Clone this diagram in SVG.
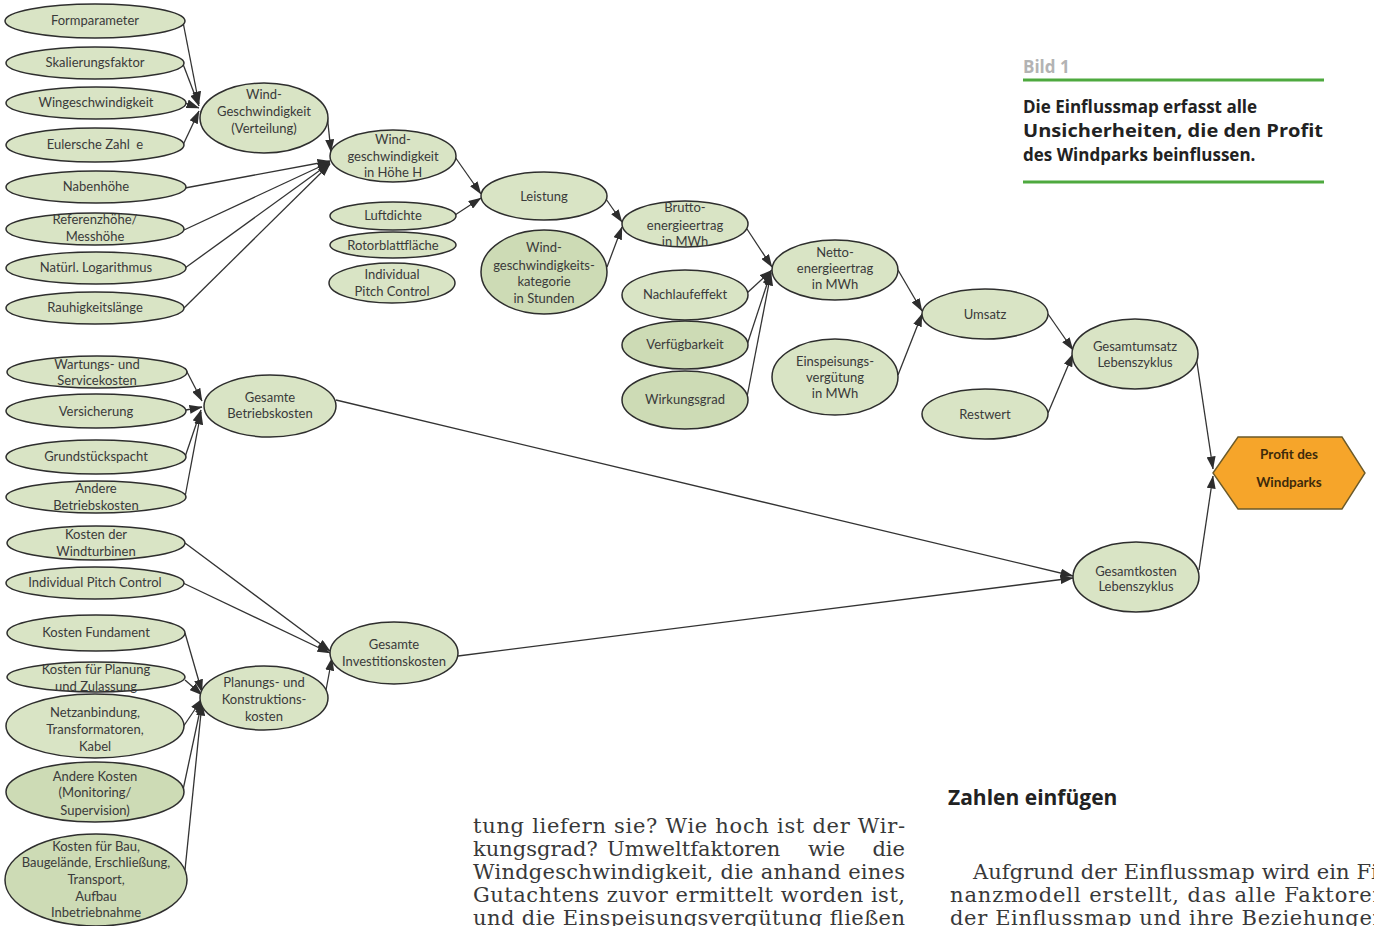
<svg xmlns="http://www.w3.org/2000/svg" width="1374" height="926" viewBox="0 0 1374 926">
<style>
.n ellipse{fill:#d9e4c5;stroke:#2e2e2e;stroke-width:1.5}
.n.dk ellipse{fill:#cddbb5}
.n text{font-family:Lato,"Liberation Sans",sans-serif;font-size:13px;fill:#3a3a3a;text-anchor:middle}
.c line{stroke:#333;stroke-width:1.3;marker-end:url(#ah)}
.cap{font-family:"Open Sans","Liberation Sans",sans-serif;font-weight:bold}
.body{font-family:"DejaVu Serif","Liberation Serif",serif;font-size:21px;fill:#383838}
</style>
<defs>
<marker id="ah" viewBox="0 0 13 9" refX="12.5" refY="4.5" markerWidth="13" markerHeight="9" markerUnits="userSpaceOnUse" orient="auto">
<path d="M0,0 L13,4.5 L0,9 z" fill="#2d2d2d"/>
</marker>
</defs>
<rect width="1374" height="926" fill="#fff"/>

<g id="connectors" class="c">
<line x1="183" y1="22" x2="199" y2="104"/>
<line x1="183" y1="64" x2="199" y2="106"/>
<line x1="185" y1="103" x2="199" y2="108"/>
<line x1="183" y1="145" x2="199" y2="111"/>
<line x1="327" y1="114" x2="331" y2="152"/>
<line x1="185" y1="188" x2="330" y2="161"/>
<line x1="184" y1="230" x2="330" y2="162"/>
<line x1="185" y1="268" x2="330" y2="163"/>
<line x1="184" y1="308" x2="330" y2="164"/>
<line x1="455" y1="157" x2="481" y2="194"/>
<line x1="455" y1="215" x2="481" y2="198"/>
<line x1="606" y1="199" x2="622" y2="222"/>
<line x1="607" y1="267" x2="622" y2="227"/>
<line x1="747" y1="229" x2="772" y2="267"/>
<line x1="747" y1="293" x2="772" y2="270"/>
<line x1="747" y1="345" x2="771" y2="272"/>
<line x1="747" y1="397" x2="771" y2="273"/>
<line x1="898" y1="270" x2="922" y2="311"/>
<line x1="898" y1="375" x2="922" y2="314"/>
<line x1="1048" y1="314" x2="1073" y2="350"/>
<line x1="1048" y1="413" x2="1073" y2="354"/>
<line x1="1196" y1="356" x2="1213" y2="469"/>
<line x1="1199" y1="570" x2="1213" y2="476"/>
<line x1="185" y1="368" x2="202" y2="401"/>
<line x1="186" y1="410" x2="202" y2="407"/>
<line x1="185" y1="457" x2="201" y2="410"/>
<line x1="185" y1="497" x2="201" y2="412"/>
<line x1="336" y1="400" x2="1073" y2="576"/>
<line x1="458" y1="656" x2="1073" y2="578"/>
<line x1="185" y1="543" x2="330" y2="651"/>
<line x1="183" y1="583" x2="330" y2="653"/>
<line x1="326" y1="690" x2="332" y2="658"/>
<line x1="185" y1="633" x2="202" y2="692"/>
<line x1="185" y1="680" x2="202" y2="695"/>
<line x1="183" y1="727" x2="202" y2="699"/>
<line x1="183" y1="790" x2="202" y2="701"/>
<line x1="185" y1="870" x2="202" y2="703"/>
</g>

<g id="formparameter" class="n"><ellipse cx="95" cy="21" rx="90" ry="17"/><text x="95" y="25">Formparameter</text></g>
<g id="skalierungsfaktor" class="n"><ellipse cx="95" cy="63" rx="89" ry="16"/><text x="95" y="67">Skalierungsfaktor</text></g>
<g id="wingeschwindigkeit" class="n"><ellipse cx="96" cy="103" rx="90" ry="16"/><text x="96" y="107">Wingeschwindigkeit</text></g>
<g id="eulersche" class="n"><ellipse cx="95" cy="145" rx="89" ry="17"/><text x="95" y="149" xml:space="preserve">Eulersche Zahl  e</text></g>
<g id="nabenhoehe" class="n"><ellipse cx="96" cy="187" rx="90" ry="16"/><text x="96" y="191">Nabenhöhe</text></g>
<g id="referenzhoehe" class="n"><ellipse cx="95" cy="229" rx="89" ry="16"/><text x="95" y="224">Referenzhöhe/</text><text x="95" y="241">Messhöhe</text></g>
<g id="logarithmus" class="n"><ellipse cx="96" cy="268" rx="90" ry="16"/><text x="96" y="272">Natürl. Logarithmus</text></g>
<g id="rauhigkeit" class="n"><ellipse cx="95" cy="308" rx="89" ry="16"/><text x="95" y="312">Rauhigkeitslänge</text></g>

<g id="windverteilung" class="n"><ellipse cx="264" cy="118" rx="64" ry="35"/><text x="264" y="99">Wind-</text><text x="264" y="116">Geschwindigkeit</text><text x="264" y="133">(Verteilung)</text></g>
<g id="windhoehe" class="n"><ellipse cx="393" cy="156" rx="63" ry="26"/><text x="393" y="144">Wind-</text><text x="393" y="161">geschwindigkeit</text><text x="393" y="177">in Höhe H</text></g>
<g id="luftdichte" class="n"><ellipse cx="393" cy="216" rx="63" ry="14"/><text x="393" y="220">Luftdichte</text></g>
<g id="rotorblatt" class="n"><ellipse cx="393" cy="245" rx="63" ry="13"/><text x="393" y="250">Rotorblattfläche</text></g>
<g id="ipc1" class="n"><ellipse cx="392" cy="283" rx="63" ry="20"/><text x="392" y="279">Individual</text><text x="392" y="296">Pitch Control</text></g>
<g id="leistung" class="n"><ellipse cx="544" cy="196" rx="63" ry="24"/><text x="544" y="201">Leistung</text></g>
<g id="windkategorie" class="n dk"><ellipse cx="544" cy="272" rx="63" ry="42"/><text x="544" y="252">Wind-</text><text x="544" y="270">geschwindigkeits-</text><text x="544" y="286">kategorie</text><text x="544" y="303">in Stunden</text></g>
<g id="brutto" class="n"><ellipse cx="685" cy="224" rx="63" ry="23"/><text x="685" y="212">Brutto-</text><text x="685" y="230">energieertrag</text><text x="685" y="246">in MWh</text></g>
<g id="nachlauf" class="n"><ellipse cx="685" cy="295" rx="63" ry="25"/><text x="685" y="299">Nachlaufeffekt</text></g>
<g id="verfuegbarkeit" class="n dk"><ellipse cx="685" cy="345" rx="63" ry="24"/><text x="685" y="349">Verfügbarkeit</text></g>
<g id="wirkungsgrad" class="n dk"><ellipse cx="685" cy="400" rx="63" ry="29"/><text x="685" y="404">Wirkungsgrad</text></g>
<g id="netto" class="n"><ellipse cx="835" cy="270" rx="63" ry="30"/><text x="835" y="257">Netto-</text><text x="835" y="273">energieertrag</text><text x="835" y="289">in MWh</text></g>
<g id="einspeisung" class="n"><ellipse cx="835" cy="377" rx="63" ry="38"/><text x="835" y="366">Einspeisungs-</text><text x="835" y="382">vergütung</text><text x="835" y="398">in MWh</text></g>
<g id="umsatz" class="n"><ellipse cx="985" cy="314" rx="63" ry="25"/><text x="985" y="319">Umsatz</text></g>
<g id="restwert" class="n"><ellipse cx="985" cy="414" rx="63" ry="25"/><text x="985" y="419">Restwert</text></g>
<g id="gesamtumsatz" class="n"><ellipse cx="1135" cy="354" rx="63" ry="35"/><text x="1135" y="351">Gesamtumsatz</text><text x="1135" y="367">Lebenszyklus</text></g>
<g id="gesamtkosten" class="n"><ellipse cx="1136" cy="577" rx="63" ry="35"/><text x="1136" y="576">Gesamtkosten</text><text x="1136" y="591">Lebenszyklus</text></g>

<g id="profit"><polygon points="1213,473 1238,437 1342,437 1365,473 1342,509 1238,509" fill="#f6a52a" stroke="#6b5a2a" stroke-width="1.4"/><text x="1289" y="459" font-family="Lato,'Liberation Sans',sans-serif" font-weight="bold" font-size="13.5" fill="#3d2a0a" text-anchor="middle">Profit des</text><text x="1289" y="487" font-family="Lato,'Liberation Sans',sans-serif" font-weight="bold" font-size="13.5" fill="#3d2a0a" text-anchor="middle">Windparks</text></g>

<g id="wartung" class="n"><ellipse cx="97" cy="372" rx="90" ry="16"/><text x="97" y="369">Wartungs- und</text><text x="97" y="385">Servicekosten</text></g>
<g id="versicherung" class="n"><ellipse cx="96" cy="411" rx="90" ry="17"/><text x="96" y="416">Versicherung</text></g>
<g id="grundstueck" class="n"><ellipse cx="96" cy="457" rx="90" ry="17"/><text x="96" y="461">Grundstückspacht</text></g>
<g id="anderebetrieb" class="n"><ellipse cx="96" cy="497" rx="90" ry="16"/><text x="96" y="493">Andere</text><text x="96" y="510">Betriebskosten</text></g>
<g id="betriebskosten" class="n"><ellipse cx="270" cy="406" rx="66" ry="31"/><text x="270" y="402">Gesamte</text><text x="270" y="418">Betriebskosten</text></g>

<g id="windturbinen" class="n"><ellipse cx="96" cy="543" rx="89" ry="17"/><text x="96" y="539">Kosten der</text><text x="96" y="556">Windturbinen</text></g>
<g id="ipc2" class="n"><ellipse cx="95" cy="583" rx="89" ry="16"/><text x="95" y="587">Individual Pitch Control</text></g>
<g id="fundament" class="n"><ellipse cx="96" cy="633" rx="89" ry="18"/><text x="96" y="637">Kosten Fundament</text></g>
<g id="planung" class="n"><ellipse cx="96" cy="677" rx="89" ry="15"/><text x="96" y="674">Kosten für Planung</text><text x="96" y="691">und Zulassung</text></g>
<g id="netzanbindung" class="n"><ellipse cx="95" cy="726" rx="89" ry="32"/><text x="95" y="717">Netzanbindung,</text><text x="95" y="734">Transformatoren,</text><text x="95" y="751">Kabel</text></g>
<g id="anderekosten" class="n dk"><ellipse cx="95" cy="792" rx="89" ry="30"/><text x="95" y="781">Andere Kosten</text><text x="95" y="797">(Monitoring/</text><text x="95" y="815">Supervision)</text></g>
<g id="bau" class="n dk"><ellipse cx="96" cy="880" rx="91" ry="46"/><text x="96" y="851">Kosten für Bau,</text><text x="96" y="867">Baugelände, Erschließung,</text><text x="96" y="884">Transport,</text><text x="96" y="901">Aufbau</text><text x="96" y="917">Inbetriebnahme</text></g>
<g id="planungskonstruktion" class="n"><ellipse cx="264" cy="698" rx="64" ry="32"/><text x="264" y="687">Planungs- und</text><text x="264" y="704">Konstruktions-</text><text x="264" y="721">kosten</text></g>
<g id="investition" class="n"><ellipse cx="394" cy="653" rx="64" ry="31"/><text x="394" y="649">Gesamte</text><text x="394" y="666">Investitionskosten</text></g>

<g id="caption">
<text x="1023" y="73" class="cap" font-size="17" fill="#b3b3b3">Bild 1</text>
<line x1="1023" y1="80" x2="1324" y2="80" stroke="#4ea93f" stroke-width="3"/>
<text x="1023" y="113" class="cap" font-size="17" fill="#222">Die Einflussmap erfasst alle</text>
<text x="1023" y="137" class="cap" font-size="17" fill="#222" textLength="300" lengthAdjust="spacingAndGlyphs">Unsicherheiten, die den Profit</text>
<text x="1023" y="161" class="cap" font-size="17" fill="#222">des Windparks beinflussen.</text>
<line x1="1023" y1="182" x2="1324" y2="182" stroke="#4ea93f" stroke-width="3"/>
</g>

<g id="bodytext">
<text x="473" y="833" class="body" textLength="432" lengthAdjust="spacing">tung liefern sie? Wie hoch ist der Wir-</text>
<text x="473" y="856" class="body">kungsgrad?</text>
<text x="607" y="856" class="body">Umweltfaktoren</text>
<text x="808" y="856" class="body">wie</text>
<text x="905" y="856" class="body" text-anchor="end">die</text>
<text x="473" y="879" class="body" textLength="432" lengthAdjust="spacing">Windgeschwindigkeit, die anhand eines</text>
<text x="473" y="902" class="body" textLength="432" lengthAdjust="spacing">Gutachtens zuvor ermittelt worden ist,</text>
<text x="473" y="925" class="body" textLength="432" lengthAdjust="spacing">und die Einspeisungsvergütung fließen</text>
<text x="948" y="805" class="cap" font-size="21" fill="#222">Zahlen einfügen</text>
<text x="973" y="879" class="body" textLength="412" lengthAdjust="spacing">Aufgrund der Einflussmap wird ein Fi-</text>
<text x="950" y="902" class="body" textLength="436" lengthAdjust="spacing">nanzmodell erstellt, das alle Faktoren</text>
<text x="950" y="925" class="body" textLength="436" lengthAdjust="spacing">der Einflussmap und ihre Beziehungen</text>
</g>
</svg>
